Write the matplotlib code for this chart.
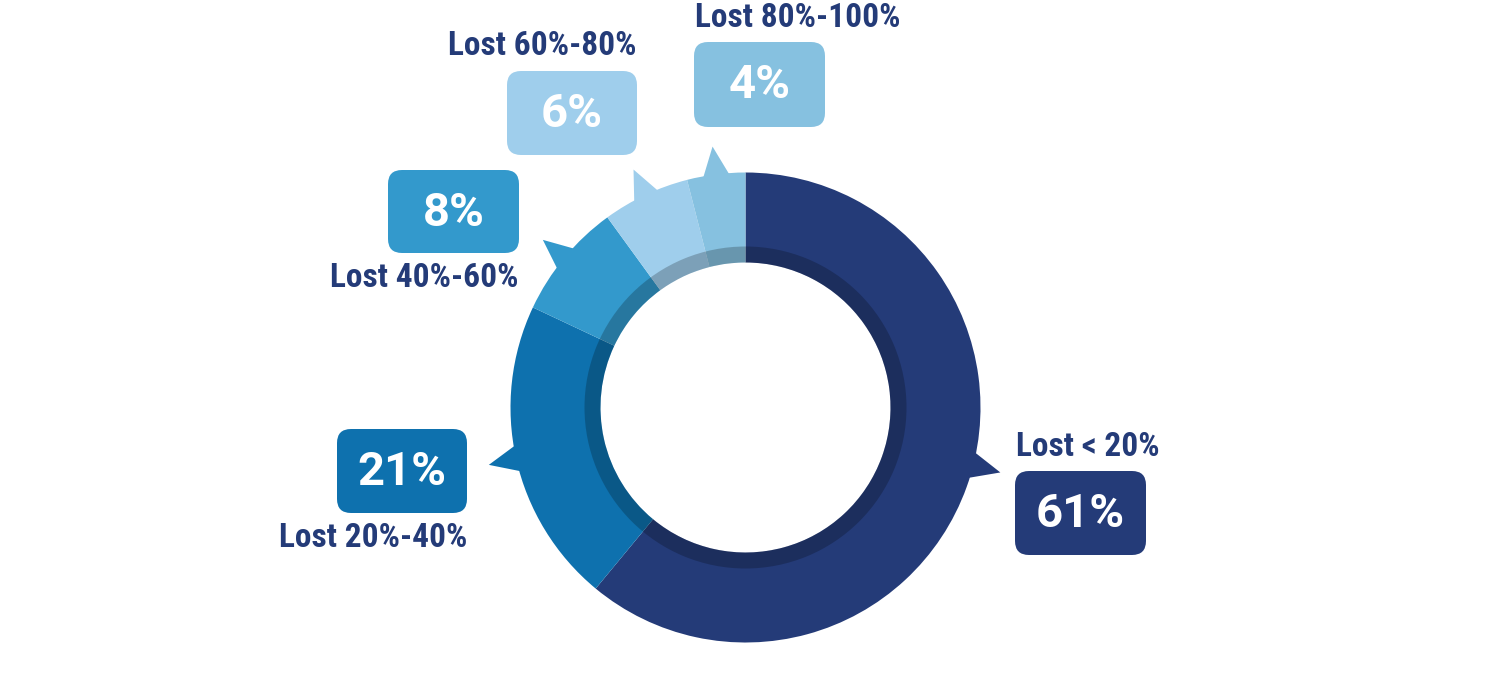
import numpy as np
import matplotlib
matplotlib.use("Agg")
import matplotlib.pyplot as plt
from matplotlib.patches import FancyBboxPatch, Wedge
from matplotlib import font_manager

# ---- data ----
categories = ["Lost < 20%", "Lost 20%-40%", "Lost 40%-60%", "Lost 60%-80%", "Lost 80%-100%"]
values = [61, 21, 8, 6, 4]
value_labels = ["61%", "21%", "8%", "6%", "4%"]
colors = ["#243B78", "#0E71AE", "#3399CC", "#9FCEEC", "#86C1E0"]

TEXT_COLOR = "#243B78"
names = {f.name for f in font_manager.fontManager.ttflist}
FONT = "Roboto Condensed" if "Roboto Condensed" in names else "Roboto"
NUM_FONT = "Roboto"

W, H = 1499, 692
fig = plt.figure(figsize=(W / 100, H / 100), dpi=100)
ax = fig.add_axes([0, 0, 1, 1])

cx, cy = 745.5, H - 407.5
R_OUT, R_IN, R_BAND = 235, 145, 161

wedges, _ = ax.pie(values, colors=colors, startangle=90, counterclock=False,
                   center=(cx, cy), radius=R_OUT,
                   wedgeprops=dict(width=R_OUT - R_IN, linewidth=0, antialiased=True))

# darker inner band
ax.add_patch(Wedge((cx, cy), R_BAND, 0, 360, width=R_BAND - R_IN,
                   facecolor="black", alpha=0.22, linewidth=0, zorder=3))

# pointer triangles (speech-bubble tails) on each slice
pointer_shift = [5.5, 0, 0, 0, 0]
for w, col, sh in zip(wedges, colors, pointer_shift):
    a = np.deg2rad((w.theta1 + w.theta2) / 2 + sh)
    hw = np.deg2rad(3.7)
    r_tip, r_base = 263, 230
    xs = [cx + r_base * np.cos(a - hw), cx + r_tip * np.cos(a), cx + r_base * np.cos(a + hw)]
    ys = [cy + r_base * np.sin(a - hw), cy + r_tip * np.sin(a), cy + r_base * np.sin(a + hw)]
    ax.fill(xs, ys, color=col, linewidth=0, zorder=1)

# label boxes: (x0, y0_top, x1, y1_bottom) in pixel coords; label position & alignment
boxes = [(1015, 471, 1146, 555), (337, 429, 467, 513), (388, 170, 519, 253),
         (507, 71, 637, 155), (694, 42, 825, 127)]
label_pos = [(1016, 447, "left"), (467, 538, "right"), (519, 278, "right"),
             (637, 46, "right"), (695, 18, "left")]

for (x0, y0, x1, y1), col, vl, cat, (lx, ly, ha) in zip(boxes, colors, value_labels, categories, label_pos):
    rad = 14
    ax.add_patch(FancyBboxPatch((x0 + rad, H - y1 + rad), (x1 - x0) - 2 * rad, (y1 - y0) - 2 * rad,
                                boxstyle=f"round,pad={rad},rounding_size={rad}",
                                facecolor=col, edgecolor="none", zorder=4))
    ax.text((x0 + x1) / 2, H - (y0 + y1) / 2 - 1, vl, color="white", fontsize=34,
            fontweight="bold", family=NUM_FONT, ha="center", va="center", zorder=5)
    ax.text(lx, H - ly, cat, color=TEXT_COLOR, fontsize=24, fontweight="bold",
            family=FONT, ha=ha, va="center", zorder=5)

ax.set_xlim(0, W)
ax.set_ylim(0, H)
ax.set_aspect("equal")
ax.axis("off")
fig.savefig("out.png", dpi=100, facecolor="white")
